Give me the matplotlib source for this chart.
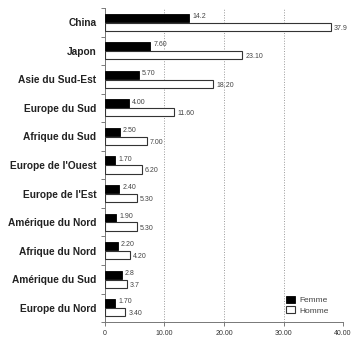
import matplotlib.pyplot as plt
import numpy as np

regions = ["China", "Japon", "Asie du Sud-Est", "Europe du Sud", "Afrique du Sud",
           "Europe de l'Ouest", "Europe de l'Est", "Amérique du Nord",
           "Afrique du Nord", "Amérique du Sud", "Europe du Nord"]
femme = [14.2, 7.60, 5.70, 4.00, 2.50, 1.70, 2.40, 1.90, 2.20, 2.8, 1.70]
homme = [37.9, 23.10, 18.20, 11.60, 7.00, 6.20, 5.30, 5.30, 4.20, 3.7, 3.40]
femme_lbl = ["14.2", "7.60", "5.70", "4.00", "2.50", "1.70", "2.40", "1.90", "2.20", "2.8", "1.70"]
homme_lbl = ["37.9", "23.10", "18.20", "11.60", "7.00", "6.20", "5.30", "5.30", "4.20", "3.7", "3.40"]
xticks = [0, 10, 20, 30, 40]
xtick_lbl = ["0", "10.00", "20.00", "30.00", "40.00"]

plt.rcParams['font.family'] = ['Liberation Sans', 'DejaVu Sans']

fig = plt.figure(figsize=(3.57, 3.46), dpi=100)
ax = fig.add_axes([0.294, 0.069, 0.667, 0.908])

y = np.arange(len(regions))
h = 0.29
ax.barh(y - h / 2 - 0.01, femme, height=h, color='black', edgecolor='black', linewidth=0.6, label='Femme', zorder=3)
ax.barh(y + h / 2 + 0.01, homme, height=h, color='white', edgecolor='#333333', linewidth=0.8, label='Homme', zorder=3)

for i in range(len(regions)):
    ax.text(femme[i] + 0.5, y[i] - h / 2 - 0.06, femme_lbl[i], fontsize=5, color='#444444', va='center', ha='left')
    ax.text(homme[i] + 0.5, y[i] + h / 2 + 0.06, homme_lbl[i], fontsize=5, color='#444444', va='center', ha='left')

ax.set_ylim(len(regions) - 0.5, -0.5)
ax.set_xlim(0, 40)
ax.set_yticks(y)
ax.set_yticklabels(regions, fontsize=7.3, fontweight='bold', color='#222222')
ax.set_yticks(np.arange(len(regions) + 1) - 0.5, minor=True)
ax.tick_params(axis='y', which='major', length=0, pad=6)
ax.tick_params(axis='y', which='minor', length=3, width=0.6, color='#666666')
ax.set_xticks(xticks)
ax.set_xticklabels(xtick_lbl, fontsize=5, color='#333333')
ax.tick_params(axis='x', length=3, width=0.6, color='#666666', pad=3)

ax.grid(axis='x', linestyle=':', color='#999999', linewidth=0.7, zorder=0)
for s in ['top', 'right']:
    ax.spines[s].set_visible(False)
for s in ['left', 'bottom']:
    ax.spines[s].set_color('#777777')
    ax.spines[s].set_linewidth(0.7)

leg = ax.legend(loc='lower right', bbox_to_anchor=(0.97, 0.0), frameon=False, fontsize=6,
                handlelength=1.1, handleheight=0.9, handletextpad=0.5, labelspacing=0.25)
for t in leg.get_texts():
    t.set_color('#444444')

fig.savefig('out.png', dpi=100)
